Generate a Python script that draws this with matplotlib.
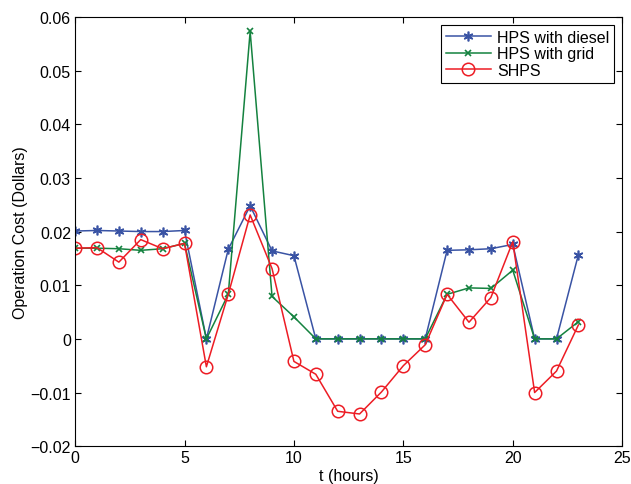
import numpy as np
import matplotlib.pyplot as plt

plt.rcParams['font.family'] = ['Liberation Sans', 'DejaVu Sans']

hours = np.arange(24)
hps_diesel = [0.0201, 0.0202, 0.0201, 0.0200, 0.0200, 0.0202, 0.0000, 0.0167,
              0.0248, 0.0164, 0.0155, 0.0000, 0.0000, 0.0000, 0.0000, 0.0000,
              0.0000, 0.0165, 0.0166, 0.0168, 0.0176, 0.0000, 0.0000, 0.0157]
hps_grid = [0.0169, 0.0169, 0.0168, 0.0165, 0.0168, 0.0178, 0.0000, 0.0083,
            0.0573, 0.0079, 0.0041, 0.0000, 0.0000, 0.0000, 0.0000, 0.0000,
            0.0000, 0.0083, 0.0095, 0.0094, 0.0128, 0.0000, 0.0000, 0.0032]
shps = [0.0169, 0.0170, 0.0143, 0.0185, 0.0168, 0.0178, -0.0052, 0.0083,
        0.0231, 0.0131, -0.0042, -0.0066, -0.0135, -0.0140, -0.0099, -0.0050,
        -0.0011, 0.0083, 0.0031, 0.0077, 0.0181, -0.0100, -0.0060, 0.0026]
ytick_labels = ['\u22120.02', '\u22120.01', '0', '0.01', '0.02', '0.03', '0.04', '0.05', '0.06']

fig = plt.figure(figsize=(6.31, 4.85), dpi=100)
ax = fig.add_axes([0.119, 0.078, 0.867, 0.885])

# asterisk marker like matlab '*'
ax.plot(hours, hps_diesel, color='#3953A4', marker=(6, 2, 0), markersize=7, markeredgewidth=1.2,
        lw=1.1, label='HPS with diesel')
ax.plot(hours, hps_grid, color='#14823F', marker='x', markersize=5, markeredgewidth=1.2,
        lw=1.1, label='HPS with grid')
ax.plot(hours, shps, color='#ED1C24', marker='o', markersize=9, markerfacecolor='none',
        markeredgewidth=1.1, lw=1.1, label='SHPS')

ax.set_xlim(0, 25)
ax.set_ylim(-0.02, 0.06)
ax.set_xticks(np.arange(0, 26, 5))
ax.set_yticks(np.arange(-0.02, 0.061, 0.01))
ax.set_yticklabels(ytick_labels)
ax.tick_params(direction='in', top=True, right=True, labelsize=11.5, length=4, pad=3)
ax.set_xlabel('t (hours)', fontsize=11.5, labelpad=2)
ax.set_ylabel('Operation Cost (Dollars)', fontsize=11.5, labelpad=2)

leg = ax.legend(loc='upper right', fontsize=11.5, fancybox=False, framealpha=1,
                edgecolor='black', borderaxespad=0.5, handlelength=2.8,
                labelspacing=0.1, borderpad=0.3, handletextpad=0.4)
leg.get_frame().set_linewidth(0.8)

fig.savefig('out.png', dpi=100)
